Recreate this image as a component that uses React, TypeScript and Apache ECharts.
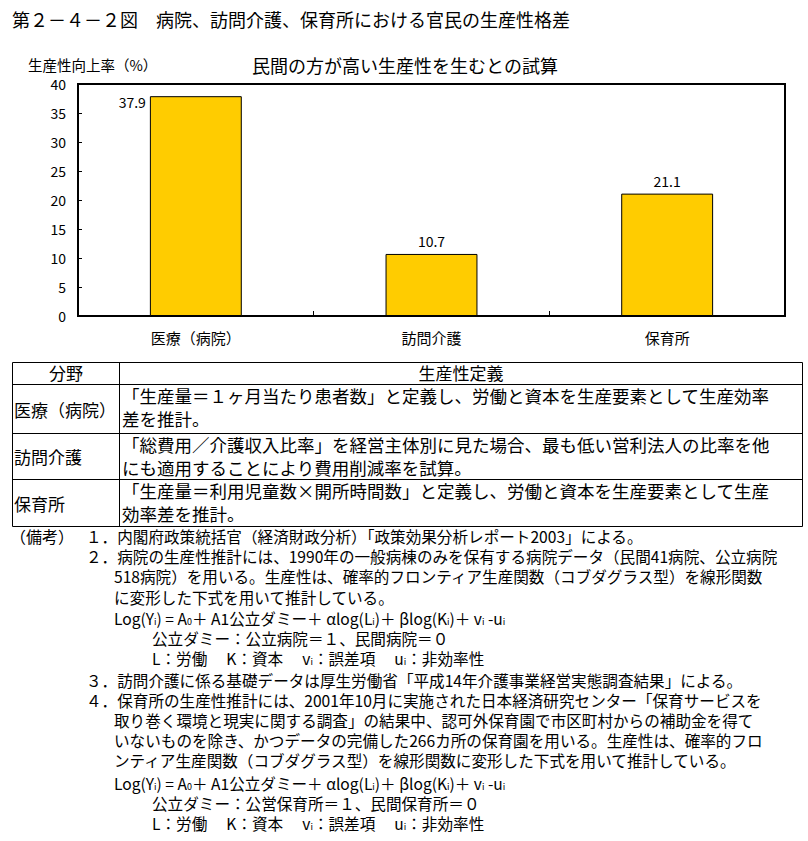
import React, { useEffect, useRef } from "react";
import * as echarts from "echarts";

const categories = ["医療（病院）", "訪問介護", "保育所"];
const values = [37.9, 10.7, 21.1];
const yMin = 0;
const yMax = 40;
const yStep = 5;

const mainTitle = "第２－４－２図　病院、訪問介護、保育所における官民の生産性格差";
const chartTitle = "民間の方が高い生産性を生むとの試算";
const yAxisName = "生産性向上率（%）";

const tableHeader = ["分野", "生産性定義"];
const tableFields = ["医療（病院）", "訪問介護", "保育所"];
const tableDefinitions = [
  ["「生産量＝１ヶ月当たり患者数」と定義し、労働と資本を生産要素として生産効率", "差を推計。"],
  ["「総費用／介護収入比率」を経営主体別に見た場合、最も低い営利法人の比率を他", "にも適用することにより費用削減率を試算。"],
  ["「生産量＝利用児童数×開所時間数」と定義し、労働と資本を生産要素として生産", "効率差を推計。"],
];

const notesLabel = "（備考）";
const formula = "Log(Y{s|i}) = A{s|0}＋ A1公立ダミー＋ αlog(L{s|i})＋ βlog(K{s|i})＋ v{s|i} -u{s|i}";
const legendLine = "L：労働　 K：資本　 v{s|i}：誤差項　 u{s|i}：非効率性";
// [text, indent level]: 0 = numbered, 1 = continuation, 2 = sub-item
const notes: [string, number][] = [
  ["１．内閣府政策統括官（経済財政分析）「政策効果分析レポート2003」による。", 0],
  ["２．病院の生産性推計には、1990年の一般病棟のみを保有する病院データ（民間41病院、公立病院", 0],
  ["518病院）を用いる。生産性は、確率的フロンティア生産関数（コブダグラス型）を線形関数", 1],
  ["に変形した下式を用いて推計している。", 1],
  [formula, 1],
  ["公立ダミー：公立病院＝１、民間病院＝０", 2],
  [legendLine, 2],
  ["３．訪問介護に係る基礎データは厚生労働省「平成14年介護事業経営実態調査結果」による。", 0],
  ["４．保育所の生産性推計には、2001年10月に実施された日本経済研究センター「保育サービスを", 0],
  ["取り巻く環境と現実に関する調査」の結果中、認可外保育園で市区町村からの補助金を得て", 1],
  ["いないものを除き、かつデータの完備した266カ所の保育園を用いる。生産性は、確率的フロ", 1],
  ["ンティア生産関数（コブダグラス型）を線形関数に変形した下式を用いて推計している。", 1],
  [formula, 1],
  ["公立ダミー：公営保育所＝１、民間保育所＝０", 2],
  [legendLine, 2],
];

const FONT = "'Noto Sans CJK JP', 'Noto Sans CJK SC', sans-serif";

function txt(text: string, x: number, y: number, size: number, align = "left", extra: any = {}) {
  return {
    type: "text",
    x,
    y,
    silent: true,
    style: {
      text,
      x: 0,
      y: 0,
      fontSize: size,
      fontFamily: FONT,
      fill: "#000",
      align,
      textAlign: align,
      verticalAlign: "middle",
      textVerticalAlign: "middle",
      lineHeight: size,
      ...extra,
    },
  };
}

function line(x1: number, y1: number, x2: number, y2: number) {
  return {
    type: "line",
    silent: true,
    shape: { x1, y1, x2, y2 },
    style: { stroke: "#000", lineWidth: 1 },
  };
}

export default function App() {
  const ref = useRef<HTMLDivElement>(null);

  useEffect(() => {
    if (!ref.current) return;
    const chart = echarts.init(ref.current, null, { renderer: "svg" });

    const graphics: any[] = [];
    graphics.push(txt(mainTitle, 12, 19, 18));
    graphics.push(txt(chartTitle, 405, 65, 18, "center"));
    graphics.push(txt(yAxisName, 28, 64, 14.5));

    // table
    const tL = 12.5, tR = 802.5, tT = 362.5, colX = 119.5;
    const rowBounds = [362.5, 384.5, 433.5, 479.5, 526.5];
    graphics.push({
      type: "rect",
      silent: true,
      shape: { x: tL, y: tT, width: tR - tL, height: rowBounds[4] - tT },
      style: { fill: "none", stroke: "#000", lineWidth: 1 },
    });
    graphics.push(line(colX, tT, colX, rowBounds[4]));
    for (let i = 1; i < 4; i++) graphics.push(line(tL, rowBounds[i], tR, rowBounds[i]));
    graphics.push(txt(tableHeader[0], (tL + colX) / 2, 372.5, 17, "center"));
    graphics.push(txt(tableHeader[1], (colX + tR) / 2, 372.5, 17, "center"));
    tableFields.forEach((f, i) => {
      const top = rowBounds[i + 1];
      const bottom = rowBounds[i + 2];
      graphics.push(txt(f, 14, (top + bottom) / 2, 17));
      graphics.push(txt(tableDefinitions[i][0], 122, top + 11, 17.5));
      graphics.push(txt(tableDefinitions[i][1], 122, top + 33.5, 17.5));
    });

    // notes
    const noteYs = [536, 556, 576, 597, 618, 638, 658, 680, 700, 720, 740, 760, 783, 803, 823];
    const indentX = [86, 114, 152];
    const rich = {
      s: { fontSize: 9, fontFamily: FONT, fill: "#000", verticalAlign: "bottom", lineHeight: 8 },
    };
    graphics.push(txt(notesLabel, 10, noteYs[0], 16));
    notes.forEach(([t, lvl], i) => {
      graphics.push(txt(t, indentX[lvl], noteYs[i], 15.6, "left", { rich, lineHeight: 16 }));
    });

    chart.setOption({
      animation: false,
      backgroundColor: "#fff",
      textStyle: { fontFamily: FONT },
      grid: {
        left: 78,
        right: 23,
        top: 84,
        bottom: 525,
        show: true,
        borderColor: "#000",
        borderWidth: 2,
        backgroundColor: "#fff",
        containLabel: false,
      },
      xAxis: {
        type: "category",
        data: categories,
        axisLine: { show: true, lineStyle: { color: "#000", width: 2 } },
        axisTick: { show: true, inside: true, length: 5, lineStyle: { color: "#000", width: 1 } },
        axisLabel: { color: "#000", fontSize: 15, margin: 14, fontFamily: FONT },
        splitLine: { show: false },
      },
      yAxis: {
        type: "value",
        min: yMin,
        max: yMax,
        interval: yStep,
        axisLine: { show: true, lineStyle: { color: "#000", width: 2 } },
        axisTick: { show: true, inside: true, length: 4, lineStyle: { color: "#000", width: 1 } },
        axisLabel: { color: "#000", fontSize: 14, margin: 12, fontFamily: FONT },
        splitLine: { show: false },
      },
      series: [
        {
          type: "bar",
          barWidth: "39%",
          data: values.map((v, i) =>
            i === 0
              ? { value: v, label: { position: [-4, 6], align: "right", verticalAlign: "middle" } }
              : { value: v }
          ),
          itemStyle: { color: "#FFCC00", borderColor: "#000", borderWidth: 1 },
          label: {
            show: true,
            position: "top",
            distance: 6,
            fontSize: 14,
            color: "#000",
            fontFamily: FONT,
            formatter: (p: any) => Number(p.value).toFixed(1),
          },
        },
      ],
      graphic: { elements: graphics },
    });

    return () => chart.dispose();
  }, []);

  return (
    <div
      ref={ref}
      style={{ position: "absolute", left: 0, top: 0, width: 808, height: 841, background: "#fff" }}
    />
  );
}
